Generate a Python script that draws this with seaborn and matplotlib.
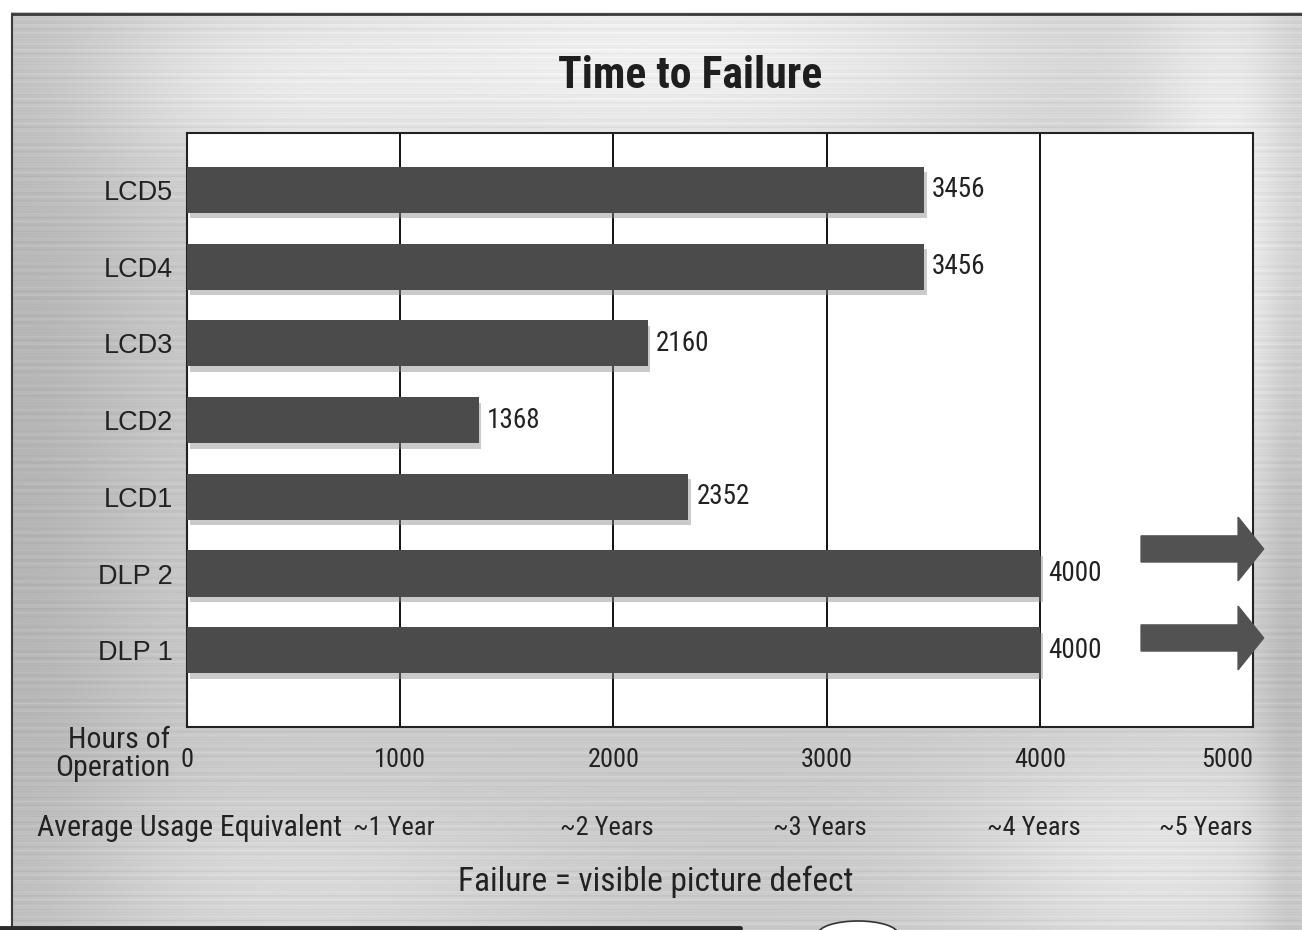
import numpy as np
import pandas as pd
import matplotlib
matplotlib.use("Agg")
import matplotlib.pyplot as plt
import matplotlib.patheffects as pe
import matplotlib.transforms as mtransforms
from matplotlib.patches import FancyArrow, Ellipse
from matplotlib import font_manager
import seaborn as sns

# ---------------- data ----------------
models = ["LCD5", "LCD4", "LCD3", "LCD2", "LCD1", "DLP 2", "DLP 1"]
hours = [3456, 3456, 2160, 1368, 2352, 4000, 4000]
exceeds_scale = [False, False, False, False, False, True, True]
hour_ticks = [0, 1000, 2000, 3000, 4000, 5000]
year_ticks = [1000, 2000, 3000, 4000, 5000]
year_labels = ["~1 Year", "~2 Years", "~3 Years", "~4 Years", "~5 Years"]
title = "Time to Failure"
footnote = "Failure = visible picture defect"

df = pd.DataFrame({"model": models, "hours": hours})

sns.set_theme(style="white")
installed = {f.name for f in font_manager.fontManager.ttflist}
narrow_name = None
for cand in ["Roboto Condensed", "Liberation Sans Narrow", "Open Sans Condensed", "Roboto"]:
    if cand in installed:
        narrow_name = cand
        break
NARROW = [narrow_name, "DejaVu Sans"] if narrow_name else ["Liberation Sans", "DejaVu Sans"]
REG = ["Liberation Sans", "DejaVu Sans"]
plt.rcParams["font.family"] = NARROW

W, H = 1302, 930
fig = plt.figure(figsize=(W / 100, H / 100), dpi=100)

# ---------------- brushed metal background ----------------
yy, xx = np.mgrid[0:H, 0:W].astype(float)
bg = 0.79 + 0.0 * xx
def blob(cx, cy, sx, sy, amp):
    return amp * np.exp(-(((xx - cx) / sx) ** 2 + ((yy - cy) / sy) ** 2))
bg += blob(650, 60, 420, 120, 0.15)
bg += blob(250, 90, 180, 80, 0.06)
bg += blob(1230, 250, 90, 300, 0.14)
bg += blob(1150, 860, 200, 120, 0.10)
bg += blob(300, 880, 250, 80, 0.06)
bg -= blob(20, 500, 120, 600, 0.08)
bg -= blob(1290, 600, 30, 500, 0.08)
bg += 0.025 * np.sin(yy * 0.9) * np.sin(yy * 0.13 + 1.0) + 0.015 * np.sin(yy * 2.3)
bg = np.clip(bg, 0, 1)
bg[:13, :] = 1.0
bg[:, :11] = 1.0

bg_ax = fig.add_axes([0, 0, 1, 1], zorder=-5)
bg_ax.imshow(bg, cmap="gray", vmin=0, vmax=1, aspect="auto", interpolation="bilinear")
bg_ax.axis("off")

# frame lines of the panel
fig.add_artist(plt.Line2D([12 / W, 1], [1 - 14 / H, 1 - 14 / H], transform=fig.transFigure,
                          color="#3a3a3a", lw=2.0))
fig.add_artist(plt.Line2D([12 / W, 12 / W], [0, 1 - 14 / H], transform=fig.transFigure,
                          color="#3a3a3a", lw=1.5))
fig.add_artist(plt.Line2D([0, 740 / W], [2 / H, 2 / H], transform=fig.transFigure,
                          color="#2a2a2a", lw=3.5))
fig.add_artist(Ellipse((858 / W, -4 / H), 80 / W, 26 / H, transform=fig.transFigure,
                       facecolor="white", edgecolor="#333333", lw=1.2))

# ---------------- main axes ----------------
ax = fig.add_axes([187 / W, 1 - 727 / H, (1253 - 187) / W, (727 - 133) / H])
ax.set_facecolor("white")

bar_color = "#4b4b4b"
sns.barplot(data=df, x="hours", y="model", orient="h", color=bar_color,
            width=0.6, saturation=1, ax=ax, zorder=3)

for p in ax.patches:
    p.set_path_effects([pe.SimplePatchShadow(offset=(2, -4), shadow_rgbFace="#8a8a8a", alpha=0.45),
                        pe.Normal()])
    p.set_edgecolor("none")

ax.set_xlim(0, 5000)
ax.set_ylim(7.0, -0.74)

ax.set_xticks(hour_ticks)
ax.xaxis.grid(True, color="black", lw=1.3, zorder=1)
ax.set_axisbelow(True)
for s in ax.spines.values():
    s.set_color("#222222")
    s.set_linewidth(1.5)

ax.tick_params(axis="x", length=0, pad=15, labelsize=19, colors="#222222")
ax.tick_params(axis="y", length=0, pad=10, labelsize=19.5, colors="#222222")
ax.set_xticklabels([str(t) for t in hour_ticks])
labs = ax.get_xticklabels()
labs[-1].set_horizontalalignment("right")
for t in ax.get_yticklabels():
    t.set_fontfamily(REG)
ax.set_xlabel("")
ax.set_ylabel("")

# value labels
ax.bar_label(ax.containers[0], labels=[str(h) for h in hours], padding=6,
             fontsize=19.5, color="#222222", family=NARROW)

# arrows for devices exceeding the observed span
trans = mtransforms.blended_transform_factory(ax.transAxes, ax.transData)
arrow_offset = [0, 0, 0, 0, 0, -0.32, -0.16]
for i, ex in enumerate(exceeds_scale):
    if ex:
        yc = i + arrow_offset[i]
        arr = FancyArrow(0.895, yc, 0.115, 0, width=0.34, head_width=0.83,
                         head_length=0.024, length_includes_head=True,
                         transform=trans, color="#525252", clip_on=False, zorder=4)
        ax.add_patch(arr)

# axis caption "Hours of Operation"
fig.text(170 / W, 1 - 754 / H, "Hours of\nOperation", ha="right", va="center",
         fontsize=21.5, color="#222222", linespacing=1.02)

# year equivalents row
tx = mtransforms.blended_transform_factory(ax.transData, fig.transFigure)
for i, (xt, lab) in enumerate(zip(year_ticks, year_labels)):
    ha = "right" if i == len(year_ticks) - 1 else "center"
    ax.text(xt if ha == "right" else xt - 30, 1 - 828 / H, lab, transform=tx,
            ha=ha, va="center", fontsize=19, color="#222222")
fig.text(342 / W, 1 - 828 / H, "Average Usage Equivalent", ha="right", va="center",
         fontsize=21.5, color="#222222")

fig.text(656 / W, 1 - 882 / H, footnote, ha="center", va="center",
         fontsize=24, color="#222222")

fig.text(690 / W, 1 - 76 / H, title, ha="center", va="center",
         fontsize=31.5, fontweight="bold", color="#1e1e1e")

fig.savefig("out.png", dpi=100)
